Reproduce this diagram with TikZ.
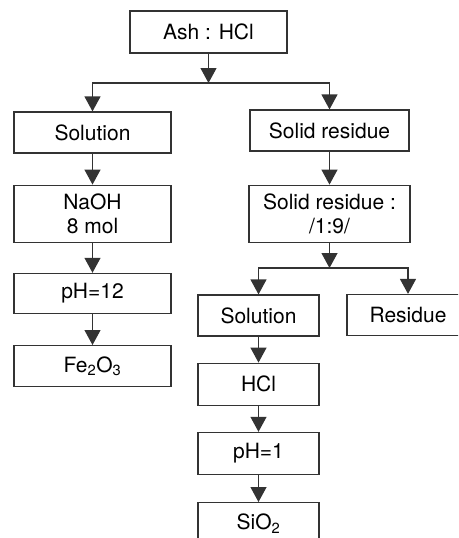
\documentclass[tikz,border=0pt]{standalone}
\usepackage{fontspec}
\setmainfont{TeX Gyre Heros}
\usetikzlibrary{positioning, arrows.meta}

\begin{document}
\begin{tikzpicture}[x=1pt, y=-1pt,
                    every node/.style = {text=black, font=\fontsize{21}{24}\selectfont},
                    box/.style = {draw=black!80, line width=1.2pt, minimum width=157pt,
                                  minimum height=41pt, inner sep=0pt, align=center},
                    narrow/.style = {box, minimum width=121pt},
                    flow/.style = {draw=black!80, line width=1.2pt,
                                   -{Triangle[width=16pt,length=15pt]}}]
                \useasboundingbox (0,0) rectangle (458,538);
                \clip (0,0) rectangle (458,538);
                % top
                \node (ash) [box, minimum height=42pt] at (208.5,32) {Ash : HCl};
                \coordinate (j1) at (208.5,83);
                % left column
                \node (sol) [box] at (92.5,132.5) {Solution};
                \node (naoh) [box, minimum height=57pt, below = 31pt of sol] {NaOH\\8 mol};
                \node (ph12) [box, minimum height=40pt, below = 30pt of naoh] {pH=12};
                \node (fe) [box, below = 31pt of ph12] {Fe\textsubscript{2}O\textsubscript{3}};
                % right column
                \node (solres) [box, minimum width=159pt] at (329.5,130.5) {Solid residue};
                \node (solres2) [box, minimum width=161pt, minimum height=57pt,
                                 below = 33pt of solres] {Solid residue :\\/1:9/};
                \coordinate (j2) at (solres2.south |- 0,268);
                \node (sol2) [narrow] at (258.5,315.5) {Solution};
                \node (res) [narrow, minimum width=122pt] at (408,315) {Residue};
                \node (hcl) [narrow, minimum height=42pt, below = 26pt of sol2] {HCl};
                \node (ph1) [narrow, minimum height=42pt, below = 26pt of hcl] {pH=1};
                \node (sio2) [narrow, minimum height=42pt, below = 27pt of ph1] {SiO\textsubscript{2}};
                % arrows
                \draw[flow] (ash) -- (j1);
                \draw[flow] (j1) -| (sol);
                \draw[flow] (j1) -| (solres);
                \draw[flow] (sol) -- (naoh);
                \draw[flow] (naoh) -- (ph12);
                \draw[flow] (ph12) -- (fe);
                \draw[flow] (solres) -- (solres2);
                \draw[flow] (solres2) -- (j2);
                \draw[flow] (j2) -| (sol2);
                \draw[flow] (j2) -| (res);
                \draw[flow] (sol2) -- (hcl);
                \draw[flow] (hcl) -- (ph1);
                \draw[flow] (ph1) -- (sio2);
\end{tikzpicture}
\end{document}
